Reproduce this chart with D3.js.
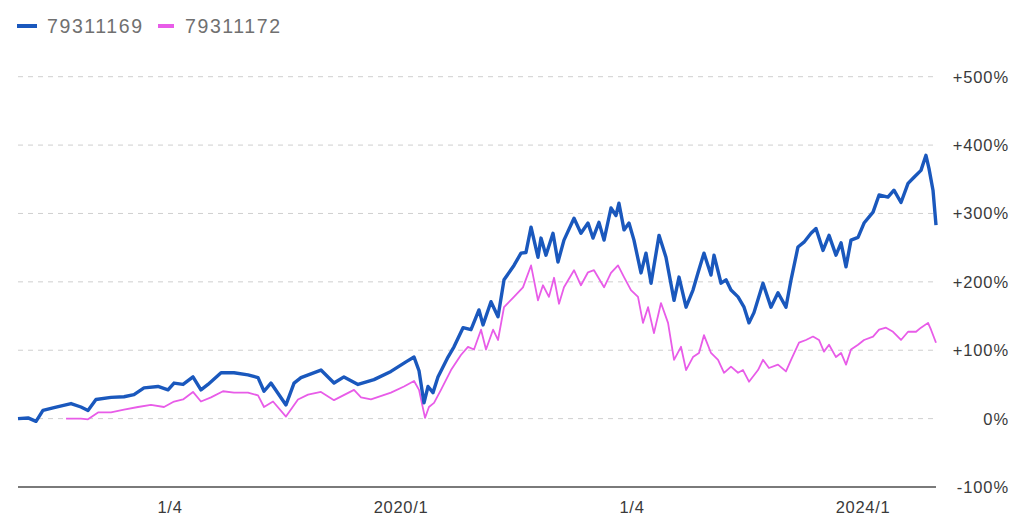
<!DOCTYPE html>
<html><head><meta charset="utf-8">
<script src="https://cdn.jsdelivr.net/npm/d3@7"></script>
<style>
html,body{margin:0;padding:0;background:#fff;}
svg{display:block;}
text{font-family:"Liberation Sans",Arial,sans-serif;}
</style></head>
<body>
<svg id="chart" width="1024" height="525"></svg>
<script>
// ---- data ----
const seriesNames = ["79311169", "79311172"];
const seriesColors = ["#1a58bd", "#e85ce8"];

const blueYears = [2016.684,2016.771,2016.840,2016.900,2016.996,2017.143,2017.229,2017.290,2017.359,2017.489,2017.602,2017.688,2017.775,2017.896,2017.983,2018.035,2018.113,2018.199,2018.268,2018.329,2018.442,2018.554,2018.675,2018.762,2018.814,2018.874,2019.004,2019.074,2019.134,2019.307,2019.420,2019.506,2019.628,2019.766,2019.913,2020.043,2020.113,2020.156,2020.199,2020.234,2020.277,2020.320,2020.407,2020.459,2020.537,2020.606,2020.675,2020.710,2020.779,2020.840,2020.892,2020.978,2021.039,2021.082,2021.126,2021.186,2021.212,2021.255,2021.316,2021.359,2021.411,2021.498,2021.558,2021.619,2021.662,2021.714,2021.758,2021.818,2021.861,2021.887,2021.931,2021.974,2022.017,2022.078,2022.121,2022.165,2022.234,2022.294,2022.364,2022.407,2022.468,2022.528,2022.571,2022.623,2022.684,2022.710,2022.771,2022.814,2022.857,2022.918,2022.970,2023.013,2023.056,2023.134,2023.203,2023.264,2023.333,2023.377,2023.437,2023.489,2023.550,2023.593,2023.654,2023.706,2023.766,2023.810,2023.853,2023.896,2023.957,2024.009,2024.087,2024.139,2024.216,2024.268,2024.329,2024.390,2024.442,2024.502,2024.545,2024.571,2024.606,2024.632];
const blueValues = [0,1,-4,12,16,22,17,12,28,31,32,35,45,47,42,52,50,61,42,50,67,67,64,60,40,52,20,52,60,71,52,61,50,57,69,83,90,70,23,47,38,61,90,105,133,130,159,137,171,149,203,224,242,243,280,236,264,239,271,229,261,293,271,286,264,287,261,308,297,315,276,286,261,213,242,198,268,236,173,207,163,188,213,242,210,239,198,203,188,178,163,140,155,198,163,184,163,203,251,258,271,278,246,268,239,257,222,261,265,286,302,327,324,334,316,344,353,363,385,366,334,283];

const pinkYears = [2017.100,2017.229,2017.290,2017.377,2017.489,2017.602,2017.723,2017.835,2017.948,2018.035,2018.113,2018.199,2018.268,2018.355,2018.459,2018.554,2018.675,2018.762,2018.814,2018.892,2019.004,2019.108,2019.195,2019.307,2019.420,2019.593,2019.654,2019.740,2019.913,2020.026,2020.113,2020.156,2020.208,2020.242,2020.286,2020.346,2020.433,2020.519,2020.580,2020.632,2020.693,2020.736,2020.797,2020.840,2020.892,2020.978,2021.056,2021.126,2021.186,2021.229,2021.281,2021.325,2021.368,2021.411,2021.498,2021.558,2021.619,2021.671,2021.758,2021.818,2021.879,2021.931,2021.991,2022.052,2022.095,2022.139,2022.190,2022.251,2022.312,2022.364,2022.424,2022.468,2022.528,2022.580,2022.623,2022.684,2022.745,2022.797,2022.857,2022.918,2022.961,2023.013,2023.091,2023.134,2023.186,2023.264,2023.333,2023.377,2023.446,2023.506,2023.567,2023.619,2023.662,2023.706,2023.766,2023.810,2023.853,2023.896,2023.957,2024.009,2024.087,2024.139,2024.199,2024.260,2024.329,2024.390,2024.459,2024.502,2024.563,2024.589,2024.632];
const pinkValues = [0,0,-1,9,9,13,17,20,17,25,28,39,25,31,40,38,38,34,17,25,3,28,35,39,27,42,31,28,38,47,55,42,1,17,23,42,71,93,105,101,130,101,130,115,163,178,192,224,173,195,178,206,168,192,217,195,214,217,192,213,224,207,188,178,140,163,125,169,140,86,105,71,90,96,122,96,86,67,76,67,71,54,71,86,74,79,69,86,111,115,120,115,98,108,90,96,79,101,108,115,120,130,133,127,115,127,127,133,140,130,111];

const yTicks = [-100, 0, 100, 200, 300, 400, 500];
const yTickLabels = ["-100%", "0%", "+100%", "+200%", "+300%", "+400%", "+500%"];
const xTicks = [2018, 2020, 2022, 2024];
const xTickLabels = ["1/4", "2020/1", "1/4", "2024/1"];

// ---- chart ----
const svg = d3.select("#chart");
const plotLeft = 18, plotRight = 936, plotTop = 76.7, plotBottom = 487;

const x = d3.scaleLinear().domain([blueYears[0], blueYears[blueYears.length - 1]]).range([plotLeft, plotRight]);
const y = d3.scaleLinear().domain([-100, 500]).range([plotBottom, plotTop]);

// grid
svg.append("g").selectAll("line").data(yTicks.filter(d => d > -100)).join("line")
  .attr("x1", plotLeft).attr("x2", plotRight)
  .attr("y1", d => y(d)).attr("y2", d => y(d))
  .attr("stroke", "#cfcfcf").attr("stroke-width", 1).attr("stroke-dasharray", "5,5");

// bottom axis line
svg.append("line").attr("x1", plotLeft).attr("x2", plotRight)
  .attr("y1", y(-100)).attr("y2", y(-100))
  .attr("stroke", "#7a7a7a").attr("stroke-width", 2);

// y labels
svg.append("g").selectAll("text").data(yTicks).join("text")
  .attr("x", 1009).attr("y", d => y(d))
  .attr("text-anchor", "end").attr("dominant-baseline", "central")
  .attr("font-size", 16.5).attr("letter-spacing", "0.9px").attr("fill", "#3a3a3a")
  .text((d, i) => yTickLabels[i]);

// x labels
svg.append("g").selectAll("text").data(xTicks).join("text")
  .attr("x", d => x(d)).attr("y", 507)
  .attr("text-anchor", "middle").attr("dominant-baseline", "central")
  .attr("font-size", 16.5).attr("letter-spacing", "0.7px").attr("fill", "#3a3a3a")
  .text((d, i) => xTickLabels[i]);

const line = d3.line().x(d => x(d[0])).y(d => y(d[1]));

const pinkData = pinkYears.map((t, i) => [t, pinkValues[i]]);
const blueData = blueYears.map((t, i) => [t, blueValues[i]]);

svg.append("path").datum(pinkData).attr("d", line)
  .attr("fill", "none").attr("stroke", seriesColors[1]).attr("stroke-width", 1.8)
  .attr("stroke-linejoin", "round");
svg.append("path").datum(blueData).attr("d", line)
  .attr("fill", "none").attr("stroke", seriesColors[0]).attr("stroke-width", 3.4)
  .attr("stroke-linejoin", "round");

// legend
const legend = svg.append("g");
const legendX = [17, 158];
seriesNames.forEach((name, i) => {
  legend.append("line").attr("x1", legendX[i]).attr("x2", legendX[i] + (i === 0 ? 20 : 16))
    .attr("y1", 26).attr("y2", 26)
    .attr("stroke", seriesColors[i]).attr("stroke-width", 4);
  legend.append("text").attr("x", legendX[i] + (i === 0 ? 30 : 27)).attr("y", 26)
    .attr("dominant-baseline", "central")
    .attr("font-size", 19.5).attr("letter-spacing", "1.6px").attr("fill", "#707070")
    .text(name);
});
</script>
</body></html>
